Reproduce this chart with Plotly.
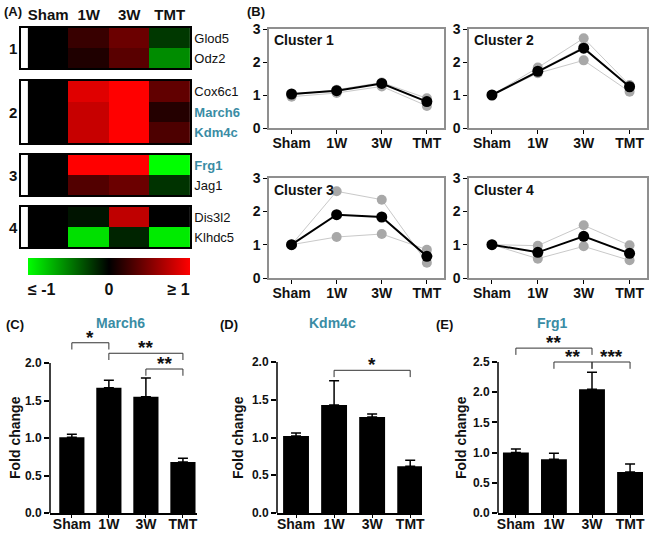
import plotly.graph_objects as go

W, H = 654, 539
FONT = "Liberation Sans, Arial, sans-serif"
TEAL = "#3a8ca4"

groups = ["Sham", "1W", "3W", "TMT"]

# (A) heatmap values (relative to sham, clipped to [-1, 1])
cluster1_genes = ["Glod5", "Odz2"]
cluster1_z = [[0, 0.22, 0.42, -0.22], [0, 0.12, 0.35, -0.55]]
cluster2_genes = ["Cox6c1", "March6", "Kdm4c"]
cluster2_z = [[0, 0.88, 1.0, 0.38], [0, 0.78, 1.0, 0.14], [0, 0.78, 1.0, 0.3]]
cluster3_genes = ["Frg1", "Jag1"]
cluster3_z = [[0, 1.0, 1.0, -1.0], [0, 0.32, 0.42, -0.2]]
cluster4_genes = ["Dis3l2", "Klhdc5"]
cluster4_z = [[0, -0.08, 0.75, 0.0], [0, -0.88, -0.14, -0.92]]
highlight = ["March6", "Kdm4c", "Frg1"]

# (B) cluster profiles, fold change
c1_mean = [1.03, 1.13, 1.35, 0.80]
c1_genes = [[1.0, 1.16, 1.38, 0.90], [0.95, 1.06, 1.26, 0.67]]
c2_mean = [1.0, 1.72, 2.42, 1.25]
c2_genes = [[1.0, 1.83, 2.72, 1.30], [1.0, 1.72, 2.46, 1.22], [1.0, 1.66, 2.05, 1.10]]
c3_mean = [1.0, 1.90, 1.83, 0.65]
c3_genes = [[1.0, 2.60, 2.35, 0.46], [1.0, 1.23, 1.32, 0.85]]
c4_mean = [1.0, 0.77, 1.25, 0.74]
c4_genes = [[1.0, 0.97, 1.58, 0.98], [1.0, 0.58, 0.95, 0.53]]

# (C)-(E) qPCR fold change, mean and SEM
march6_mean = [1.01, 1.67, 1.55, 0.68]
march6_sem = [0.04, 0.10, 0.25, 0.05]
kdm4c_mean = [1.02, 1.43, 1.27, 0.62]
kdm4c_sem = [0.04, 0.32, 0.04, 0.08]
frg1_mean = [1.0, 0.89, 2.05, 0.68]
frg1_sem = [0.06, 0.10, 0.28, 0.13]

march6_sig = [(0, 1, 2.27, "*"), (1, 3, 2.13, "**"), (2, 3, 1.92, "**")]
kdm4c_sig = [(1, 3, 1.89, "*")]
frg1_sig = [(0, 2, 2.73, "**"), (1, 2, 2.50, "**"), (2, 3, 2.50, "***")]


def dx(a, b):
    return [a / W, b / W]


def dy(top, bottom):
    return [1 - bottom / H, 1 - top / H]


def bold(size, color="#111"):
    return dict(family=FONT, size=size, color=color, weight="bold")


def gene_label(g):
    if g in highlight:
        return f"<span style='color:{TEAL}'><b>{g}</b></span>"
    return g


def label(text, x, y, font, angle=0):
    # text placed at pixel position (x, y) from the top-left corner
    return dict(text=text, x=x / W, y=1 - y / H, xref="paper", yref="paper",
                xanchor="center", yanchor="middle", showarrow=False,
                textangle=angle, font=font)


fig = go.Figure()
axes = {}
annotations = []
shapes = []

# ---- panel A
heat = [
    (cluster1_genes, cluster1_z, 28, 68),
    (cluster2_genes, cluster2_z, 81, 143),
    (cluster3_genes, cluster3_z, 155, 195),
    (cluster4_genes, cluster4_z, 207, 247),
]
scale = [[0, "#00ff00"], [0.5, "#000000"], [1, "#ff0000"]]
for i, (genes, z, top, bot) in enumerate(heat, start=1):
    fig.add_trace(go.Heatmap(
        z=z, x=[0, 1, 2, 3], y=list(range(len(genes))),
        zmin=-1, zmax=1, colorscale=scale, showscale=(i == 1),
        colorbar=dict(orientation="h", x=109 / W, xanchor="center",
                      y=1 - 258 / H, yanchor="top", len=162, lenmode="pixels",
                      thickness=17, thicknessmode="pixels", outlinewidth=0,
                      xpad=0, ypad=0, ticks="",
                      tickvals=[-0.83, 0, 0.86], ticktext=["≤ -1", "0", "≥ 1"],
                      tickfont=bold(16)),
        xaxis=f"x{i}", yaxis=f"y{i}", hoverinfo="skip"))
    axes[f"xaxis{i}"] = dict(
        domain=dx(21, 190), range=[-0.67, 3.5], anchor=f"y{i}",
        showline=True, mirror=True, linecolor="black", linewidth=1.5,
        showgrid=False, zeroline=False, side="top", ticks="",
        tickvals=[0, 1, 2, 3], ticktext=groups, showticklabels=(i == 1),
        tickfont=bold(15), automargin=False)
    axes[f"yaxis{i}"] = dict(
        domain=dy(top, bot), range=[len(genes) - 0.5, -0.5], anchor=f"x{i}",
        side="right", ticks="", tickvals=list(range(len(genes))),
        ticktext=[gene_label(g) for g in genes],
        tickfont=dict(family=FONT, size=13, color="#111"),
        showline=True, mirror=True, linecolor="black", linewidth=1.5,
        showgrid=False, zeroline=False, automargin=False)
    annotations.append(label(str(i), 13, (top + bot) / 2, bold(15)))

# ---- panel B
profiles = [
    ("Cluster 1", c1_mean, c1_genes, 269, 444, 29, 128),
    ("Cluster 2", c2_mean, c2_genes, 469, 647, 29, 128),
    ("Cluster 3", c3_mean, c3_genes, 269, 444, 178, 278),
    ("Cluster 4", c4_mean, c4_genes, 469, 647, 178, 278),
]
for k, (name, mean, genes, x0, x1, top, bot) in enumerate(profiles, start=5):
    for g in genes:
        fig.add_trace(go.Scatter(
            x=[0, 1, 2, 3], y=g, mode="lines+markers",
            line=dict(color="#c9c9c9", width=1),
            marker=dict(color="#a8a8a8", size=10),
            xaxis=f"x{k}", yaxis=f"y{k}", hoverinfo="skip"))
    fig.add_trace(go.Scatter(
        x=[0, 1, 2, 3], y=mean, mode="lines+markers",
        line=dict(color="black", width=2),
        marker=dict(color="black", size=11),
        xaxis=f"x{k}", yaxis=f"y{k}", hoverinfo="skip"))
    axes[f"xaxis{k}"] = dict(
        domain=dx(x0, x1), range=[-0.5, 3.38], anchor=f"y{k}",
        tickvals=[0, 1, 2, 3], ticktext=groups, tickfont=bold(14),
        ticks="outside", ticklen=4, tickcolor="black", ticklabelstandoff=-3,
        showline=True, mirror=True, linecolor="#8f8f8f", linewidth=1.5,
        showgrid=False, zeroline=False, automargin=False)
    axes[f"yaxis{k}"] = dict(
        domain=dy(top, bot), range=[0, 3], anchor=f"x{k}",
        tickvals=[0, 1, 2, 3], tickfont=bold(14),
        ticks="outside", ticklen=4, tickcolor="black",
        showline=True, mirror=True, linecolor="#8f8f8f", linewidth=1.5,
        showgrid=False, zeroline=False, automargin=False)
    annotations.append(dict(text=f"<b>{name}</b>", x=0.015, y=0.985,
                            xref=f"x{k} domain", yref=f"y{k} domain",
                            xanchor="left", yanchor="top", showarrow=False,
                            font=bold(14)))

# ---- panels C-E
bars = [
    ("March6", march6_mean, march6_sem, march6_sig, 50, 197, 75.0, 2.0, 2.4,
     [-0.59, 3.38], 0.5, 120, 15, "(C)", 15),
    ("Kdm4c", kdm4c_mean, kdm4c_sem, kdm4c_sig, 277, 422, 75.5, 2.0, 2.3,
     [-0.5, 3.31], 0.5, 332, 238, "(D)", 229),
    ("Frg1", frg1_mean, frg1_sem, frg1_sig, 498, 643, 60.4, 2.5, 2.95,
     [-0.47, 3.34], 0.5, 552, 461, "(E)", 444),
]
for k, (gene, mean, sem, sig, x0, x1, ppu, ytop, ymax, xr, step,
        tx, ttx, tag, tagx) in enumerate(bars, start=9):
    fig.add_trace(go.Bar(
        x=[0, 1, 2, 3], y=mean, width=0.68, marker_color="black",
        marker_line_width=0,
        error_y=dict(type="data", array=sem, arrayminus=[0] * 4,
                     symmetric=False, color="black", thickness=1.5, width=5),
        xaxis=f"x{k}", yaxis=f"y{k}", hoverinfo="skip"))
    for a, b, yv, stars in sig:
        drop = 0.09 * ytop / 2.0
        fig.add_trace(go.Scatter(
            x=[a, a, b, b], y=[yv - drop, yv, yv, yv - drop], mode="lines",
            line=dict(color="#333", width=1), xaxis=f"x{k}", yaxis=f"y{k}",
            hoverinfo="skip"))
        annotations.append(dict(text=stars, x=(a + b) / 2, y=yv,
                                xref=f"x{k}", yref=f"y{k}", yanchor="bottom",
                                xanchor="center", yshift=-7, showarrow=False,
                                font=bold(19)))
    ticks = [round(step * j, 2) for j in range(int(round(ytop / step)) + 1)]
    axes[f"xaxis{k}"] = dict(
        domain=dx(x0, x1), range=xr, anchor=f"y{k}",
        tickvals=[0, 1, 2, 3], ticktext=groups, tickfont=bold(14),
        ticks="outside", ticklen=3, tickcolor="black", ticklabelstandoff=-6,
        showline=True, linecolor="black", linewidth=1.5,
        showgrid=False, zeroline=False, automargin=False)
    axes[f"yaxis{k}"] = dict(
        domain=dy(513 - ymax * ppu, 513), range=[0, ymax], anchor=f"x{k}",
        tickvals=ticks, tickformat=".1f", tickfont=bold(12),
        ticks="outside", ticklen=5, tickcolor="black", tickwidth=1.5,
        showline=False, showgrid=False, zeroline=False, automargin=False)
    shapes.append(dict(type="line", xref=f"x{k} domain", yref=f"y{k}",
                       x0=0, x1=0, y0=0, y1=ytop,
                       line=dict(color="black", width=1.5)))
    annotations.append(label(gene, tx, 323, bold(14, TEAL)))
    annotations.append(label("Fold change", ttx, 438, bold(14), angle=-90))
    annotations.append(label(tag, tagx, 324, bold(13)))

annotations.append(label("(A)", 13, 12, bold(13)))
annotations.append(label("(B)", 256, 12, bold(13)))

fig.update_layout(
    width=W, height=H,
    margin=dict(l=0, r=0, t=0, b=0, autoexpand=False),
    paper_bgcolor="white", plot_bgcolor="white", showlegend=False,
    font=dict(family=FONT, color="#111"),
    annotations=annotations, shapes=shapes, **axes)

fig.write_html("out.html", config={"displayModeBar": False},
               post_script="document.body.style.margin='0';")
